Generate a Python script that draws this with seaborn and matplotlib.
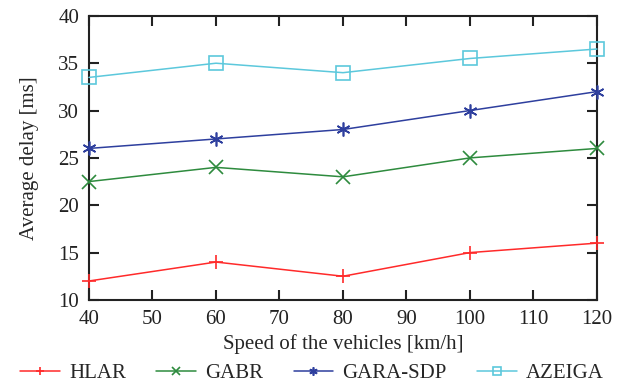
import matplotlib
matplotlib.use("Agg")
import matplotlib.pyplot as plt
import pandas as pd
import seaborn as sns

speeds = [40, 60, 80, 100, 120]
hlar = [12, 14, 12.5, 15, 16]
gabr = [22.5, 24, 23, 25, 26]
gara_sdp = [26, 27, 28, 30, 32]
azeiga = [33.5, 35, 34, 35.5, 36.5]

series_names = ["HLAR", "GABR", "GARA-SDP", "AZEIGA"]
colors = ["#ff2a2a", "#2e8b3e", "#2e3f9e", "#5cc8dc"]
markers = ["+", "x", (6, 2, 0), "s"]

rows = []
for name, vals in zip(series_names, [hlar, gabr, gara_sdp, azeiga]):
    for s, v in zip(speeds, vals):
        rows.append({"speed": s, "delay": v, "scheme": name})
df = pd.DataFrame(rows)

sns.set_style("ticks")
plt.rcParams["font.family"] = ["Liberation Serif", "DejaVu Serif"]

fig, ax = plt.subplots(figsize=(6.18, 3.87), dpi=100)
for name, col, mk in zip(series_names, colors, markers):
    sub = df[df["scheme"] == name]
    fill = "none" if mk == "s" else col
    sns.lineplot(
        data=sub, x="speed", y="delay", ax=ax, color=col, label=name,
        marker=mk, markersize=10, markeredgewidth=1.2, markerfacecolor=fill,
        markeredgecolor=col, linewidth=1.1, clip_on=False, zorder=5,
    )

ax.set_xlim(40, 120)
ax.set_ylim(10, 40)
ax.set_xticks(range(40, 121, 10))
ax.set_yticks(range(10, 41, 5))
ax.tick_params(direction="in", length=7, width=1.5, top=True, right=True,
               labelsize=15, colors="#222222", pad=7)
for sp in ax.spines.values():
    sp.set_linewidth(1.5)
    sp.set_color("#222222")
ax.set_xlabel("Speed of the vehicles [km/h]", fontsize=15, labelpad=4)
ax.set_ylabel("Average delay [ms]", fontsize=15, labelpad=14)

ax.legend_.remove()
handles, labels = ax.get_legend_handles_labels()
fig.legend(handles, labels, loc="center", bbox_to_anchor=(0.505, 0.035), ncol=4,
           frameon=False, fontsize=15, handlelength=1.9, columnspacing=1.45,
           markerscale=0.6, handletextpad=0.45)

fig.subplots_adjust(left=0.144, right=0.966, top=0.959, bottom=0.225)
fig.savefig("out.png", dpi=100)
